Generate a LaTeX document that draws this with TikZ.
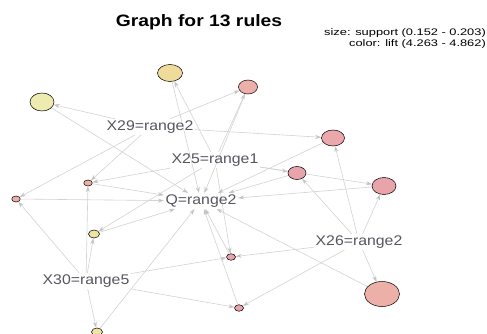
\documentclass[tikz,border=0pt]{standalone}
\usepackage{fontspec}
\setmainfont{Liberation Sans}
\usetikzlibrary{shapes.geometric,arrows.meta,backgrounds}
\definecolor{edgec}{HTML}{D2D2D2}
\definecolor{tipc}{HTML}{C4C4C4}
\definecolor{labc}{HTML}{55565E}
\definecolor{ylA}{HTML}{EEEBB0}
\definecolor{ylB}{HTML}{F0DC9A}
\definecolor{ylC}{HTML}{EEE3A0}
\definecolor{pkA}{HTML}{EDB0A8}
\definecolor{pkB}{HTML}{EAA8AD}
\definecolor{pkC}{HTML}{E8A3AB}
\definecolor{pkD}{HTML}{EDB0A2}
\newcommand\itemtxt[1]{\scalebox{1.13}[1]{\fontsize{14}{16}\selectfont #1}}
\tikzset{
  itemlbl/.style={inner sep=1.5pt, text=labc},
  rulenode/.style={ellipse, draw=black, line width=0.5pt, inner sep=0pt},
  conn/.style={draw=edgec, line width=0.6pt, -{Stealth[length=6pt,width=4pt,color=tipc,fill=tipc]}},
}
\begin{document}
\begin{tikzpicture}[x=1pt,y=-1pt]
\useasboundingbox (0,0) rectangle (487,334);
\node (title) at (199,22) {\scalebox{1.17}[1]{\fontsize{16.5}{18}\selectfont\bfseries Graph for 13 rules}};
\node[anchor=east, align=right, inner sep=0pt] (legend) at (486,38.5)
  {\scalebox{1.35}[1]{\fontsize{9.5}{11.5}\selectfont\begin{tabular}{@{}r@{}}size: support (0.152 - 0.203)\\[-0.2pt] color: lift (4.263 - 4.862)\end{tabular}}};

% item labels
\node[itemlbl] (x29) at (150,127) {\itemtxt{X29=range2}};
\node[itemlbl] (x25) at (215,160) {\itemtxt{X25=range1}};
\node[itemlbl] (q)   at (201,201) {\itemtxt{Q=range2}};
\node[itemlbl] (x26) at (359,242) {\itemtxt{X26=range2}};
\node[itemlbl] (x30) at (86,281)  {\itemtxt{X30=range5}};

% rule nodes
\node[rulenode, fill=ylA, minimum width=24pt, minimum height=18pt] (c1) at (42,102) {};
\node[rulenode, fill=ylB, minimum width=25pt, minimum height=17pt] (c2) at (170,73) {};
\node[rulenode, fill=pkA, minimum width=19pt, minimum height=14pt] (c3) at (248,87) {};
\node[rulenode, fill=pkB, minimum width=23pt, minimum height=16pt] (c4) at (333,138) {};
\node[rulenode, fill=pkC, minimum width=18pt, minimum height=13pt] (c5) at (297,173) {};
\node[rulenode, fill=pkC, minimum width=24pt, minimum height=17pt] (c6) at (384,186) {};
\node[rulenode, fill=pkD, minimum width=8.5pt, minimum height=6pt] (c7) at (88,183) {};
\node[rulenode, fill=pkD, minimum width=8.5pt, minimum height=6pt] (c8) at (16,199) {};
\node[rulenode, fill=ylC, minimum width=11pt, minimum height=8pt] (c9) at (94,234) {};
\node[rulenode, fill=pkC, minimum width=9pt, minimum height=6.5pt] (c10) at (231,257) {};
\node[rulenode, fill=pkC, minimum width=9pt, minimum height=6.5pt] (c11) at (239,308) {};
\node[rulenode, fill=pkA, minimum width=35pt, minimum height=25pt] (c12) at (382,294) {};
\node[rulenode, fill=ylC, minimum width=11pt, minimum height=8pt] (c13) at (97,332) {};

\begin{pgfonlayer}{background}
% LHS -> rule
\foreach \r in {c1,c3,c4,c7,c8} \draw[conn] (x29) -- (\r);
\foreach \r in {c2,c3,c5,c6,c7,c9,c10} \draw[conn] (x25) -- (\r);
\foreach \r in {c4,c5,c6,c10,c11,c12} \draw[conn] (x26) -- (\r);
\foreach \r in {c7,c8,c9,c10,c11,c13} \draw[conn] (x30) -- (\r);
% rule -> RHS
\foreach \r in {c1,c2,c3,c4,c5,c6,c7,c8,c9,c10,c11,c12,c13} \draw[conn] (\r) -- (q);
\end{pgfonlayer}
\end{tikzpicture}
\end{document}
